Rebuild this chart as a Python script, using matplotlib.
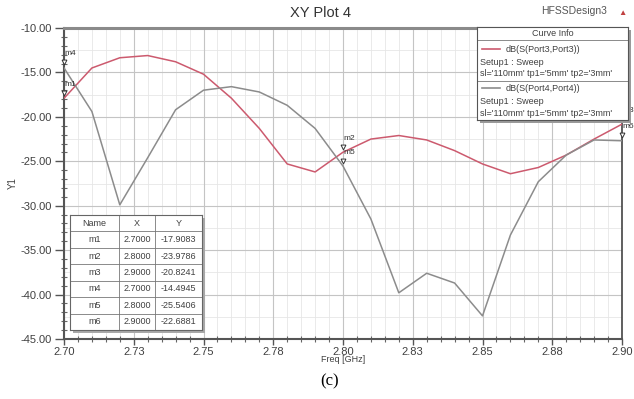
import matplotlib
matplotlib.use("Agg")
import matplotlib.pyplot as plt
import matplotlib.transforms as mtransforms
from matplotlib.ticker import MultipleLocator, FixedLocator

plt.rcParams['font.family'] = ['Liberation Sans', 'DejaVu Sans']
plt.rcParams['axes.unicode_minus'] = False

# data
freq = [2.70, 2.71, 2.72, 2.73, 2.74, 2.75, 2.76, 2.77, 2.78, 2.79, 2.80,
        2.81, 2.82, 2.83, 2.84, 2.85, 2.86, 2.87, 2.88, 2.89, 2.90]
s33 = [-17.91, -14.5, -13.35, -13.1, -13.8, -15.2, -17.9, -21.3, -25.3, -26.2, -23.98,
       -22.5, -22.1, -22.6, -23.8, -25.3, -26.4, -25.7, -24.3, -22.5, -20.82]
s44 = [-14.49, -19.4, -29.9, -24.6, -19.2, -17.0, -16.6, -17.2, -18.7, -21.3, -25.54,
       -31.5, -39.8, -37.6, -38.7, -42.4, -33.3, -27.3, -24.3, -22.6, -22.69]

xtick_vals = [2.70, 2.725, 2.75, 2.775, 2.80, 2.825, 2.85, 2.875, 2.90]
xtick_labels = ["2.70", "2.73", "2.75", "2.78", "2.80", "2.83", "2.85", "2.88", "2.90"]

marker_names = ["m1", "m2", "m3", "m4", "m5", "m6"]
marker_x = [2.7000, 2.8000, 2.9000, 2.7000, 2.8000, 2.9000]
marker_y = [-17.9083, -23.9786, -20.8241, -14.4945, -25.5406, -22.6881]

legend_names = ["dB(S(Port3,Port3))", "dB(S(Port4,Port4))"]
sweep_text = "Setup1 : Sweep"
param_text = "sl='110mm' tp1='5mm' tp2='3mm'"

red = "#cc5a6e"
gray = "#8c8c8c"
txt = "#404040"

fig = plt.figure(figsize=(6.34, 3.99), dpi=100)
ax = fig.add_axes([64/634, 1-339/399, 558/634, 311/399])
ax.set_zorder(0)

ax.plot(freq, s33, color=red, lw=1.1, zorder=3)
ax.plot(freq, s44, color=gray, lw=1.1, zorder=3)

ax.set_xlim(2.70, 2.90)
ax.set_ylim(-45, -10)
ax.xaxis.set_major_locator(FixedLocator(xtick_vals))
ax.set_xticklabels(xtick_labels)
ax.xaxis.set_minor_locator(MultipleLocator(0.005))
ax.yaxis.set_major_locator(MultipleLocator(5))
ax.yaxis.set_minor_locator(MultipleLocator(1))
ax.yaxis.set_major_formatter(matplotlib.ticker.FormatStrFormatter('%.2f'))

# grid: majors darker, minors light
ax.grid(which='major', color='#c4c4c4', lw=0.8, zorder=0)
ax.grid(which='minor', axis='x', color='#e6e6e6', lw=0.6, zorder=0)
for yy in [-42.5, -37.5, -32.5, -27.5, -22.5, -17.5, -12.5]:
    ax.axhline(yy, color='#e6e6e6', lw=0.6, zorder=0)

ax.tick_params(which='major', axis='y', direction='out', length=6.5, width=1, color='#555555',
               labelsize=8, labelcolor=txt, pad=2)
ax.tick_params(which='major', axis='x', direction='out', length=4, width=1, color='#555555',
               labelsize=8, labelcolor=txt, pad=1.5)
ax.tick_params(which='minor', direction='inout', length=4, width=0.8, color='#666666')

for s in ['left', 'bottom']:
    ax.spines[s].set_color('#555555')
    ax.spines[s].set_linewidth(1.5)
ax.spines['top'].set_color('#8a8a8a')
ax.spines['top'].set_linewidth(2.2)
ax.spines['right'].set_color('#444444')
ax.spines['right'].set_linewidth(1.2)

ax.set_xlabel("Freq [GHz]", fontsize=6.5, color=txt, labelpad=-1)
ax.set_ylabel("Y1", fontsize=7, color=txt, labelpad=2)

# markers on the curves
tri = mtransforms.offset_copy(ax.transData, fig=fig, y=4, units='points')
for name, mx, my in zip(marker_names, marker_x, marker_y):
    ax.plot(mx, my, marker='v', ms=3.5, mfc='white', mec='#333333', mew=0.7,
            transform=tri, clip_on=False, zorder=5)
    ax.annotate(name, (mx, my), xytext=(0, 9), textcoords='offset points',
                fontsize=6, color='#333333', clip_on=False, zorder=5)

# title and design name
fig.text(0.505, 0.985, "XY Plot 4", ha='center', va='top', fontsize=10.5, color='#333333')
fig.text(0.905, 0.985, "HFSSDesign3", ha='center', va='top', fontsize=7.5, color='#555555')
fig.text(0.982, 0.975, "\u25b2", ha='center', va='top', fontsize=6, color='#c04040')

# curve info box (shadow axes behind, box axes on top)
lg_sh = fig.add_axes([480/634, 1-123/399, 151/634, 93/399])
lg_sh.set_zorder(1)
lg_sh.set_facecolor('#9a9a9a')
lg_sh.set_xticks([])
lg_sh.set_yticks([])
for s in lg_sh.spines.values():
    s.set_visible(False)

lg = fig.add_axes([477/634, 1-120/399, 151/634, 93/399])
lg.set_zorder(2)
lg.set_facecolor('white')
lg.set_xlim(0, 1)
lg.set_ylim(0, 1)
lg.set_xticks([])
lg.set_yticks([])
for s in lg.spines.values():
    s.set_color('#555555')
    s.set_linewidth(0.8)
lg.text(0.5, 0.93, "Curve Info", ha='center', va='center', fontsize=6.5, color=txt)
lg.axhline(0.86, color='#777777', lw=0.6)
for i, (lname, col) in enumerate(zip(legend_names, [red, gray])):
    top = 0.76 - i * 0.42
    lg.plot([0.03, 0.15], [top, top], color=col, lw=1.2)
    lg.text(0.19, top, lname, ha='left', va='center', fontsize=6.5, color=txt)
    lg.text(0.02, top - 0.14, sweep_text, ha='left', va='center', fontsize=6.5, color=txt)
    lg.text(0.02, top - 0.265, param_text, ha='left', va='center', fontsize=6.5, color=txt)
    if i == 0:
        lg.axhline(top - 0.34, color='#777777', lw=0.6)

# marker table (shadow axes behind, table axes on top)
tb_sh = fig.add_axes([73/634, 1-333/399, 132/634, 115/399])
tb_sh.set_zorder(1)
tb_sh.set_facecolor('#a8a8a8')
tb_sh.set_xticks([])
tb_sh.set_yticks([])
for s in tb_sh.spines.values():
    s.set_visible(False)

tb = fig.add_axes([70/634, 1-330/399, 132/634, 115/399])
tb.set_zorder(2)
tb.set_facecolor('white')
tb.set_xlim(0, 132)
tb.set_ylim(7, 0)
tb.set_xticks([])
tb.set_yticks([])
for s in tb.spines.values():
    s.set_color('#666666')
    s.set_linewidth(0.8)
cols = [0, 49, 85, 132]
for c in cols[1:-1]:
    tb.axvline(c, color='#777777', lw=0.6)
for r in range(1, 7):
    tb.axhline(r, color='#777777', lw=0.6)
header = ["Name", "X", "Y"]
for j, h in enumerate(header):
    tb.text((cols[j] + cols[j+1]) / 2, 0.5, h, ha='center', va='center', fontsize=6.5, color=txt)
for r, (name, mx, my) in enumerate(zip(marker_names, marker_x, marker_y)):
    vals = [name, "%.4f" % mx, "%.4f" % my]
    for j, v in enumerate(vals):
        tb.text((cols[j] + cols[j+1]) / 2, r + 1.5, v, ha='center', va='center',
                fontsize=6.5, color=txt)

fig.text(0.52, 0.045, "(c)", ha='center', va='center', fontsize=12,
         family=['Liberation Serif', 'DejaVu Serif'], color='black')

fig.savefig("out.png", dpi=100)
